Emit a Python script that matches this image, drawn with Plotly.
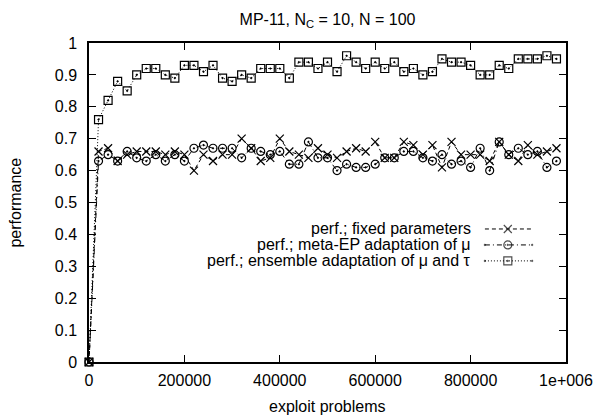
import plotly.graph_objects as go

x_vals = [i * 20000 for i in range(50)]

fixed_params = [0.00, 0.66, 0.67, 0.63, 0.65, 0.66, 0.66, 0.66, 0.65, 0.66,
                0.65, 0.60, 0.65, 0.63, 0.65, 0.65, 0.70, 0.67, 0.63, 0.64,
                0.70, 0.66, 0.65, 0.64, 0.67, 0.65, 0.64, 0.66, 0.67, 0.66,
                0.69, 0.64, 0.64, 0.69, 0.68, 0.65, 0.68, 0.61, 0.69, 0.65,
                0.65, 0.65, 0.63, 0.69, 0.65, 0.63, 0.68, 0.65, 0.66, 0.67]

meta_ep = [0.00, 0.63, 0.65, 0.63, 0.66, 0.64, 0.63, 0.65, 0.63, 0.65,
           0.63, 0.67, 0.68, 0.67, 0.67, 0.67, 0.64, 0.67, 0.66, 0.65,
           0.66, 0.62, 0.62, 0.69, 0.64, 0.64, 0.60, 0.62, 0.61, 0.61,
           0.62, 0.64, 0.64, 0.66, 0.66, 0.64, 0.63, 0.65, 0.62, 0.63,
           0.61, 0.67, 0.60, 0.69, 0.65, 0.67, 0.65, 0.66, 0.61, 0.63]

ensemble = [0.00, 0.76, 0.82, 0.88, 0.85, 0.90, 0.92, 0.92, 0.90, 0.89,
            0.93, 0.93, 0.91, 0.93, 0.89, 0.88, 0.90, 0.89, 0.92, 0.92,
            0.92, 0.89, 0.94, 0.94, 0.92, 0.94, 0.91, 0.96, 0.94, 0.92,
            0.94, 0.92, 0.94, 0.91, 0.92, 0.90, 0.91, 0.95, 0.94, 0.94,
            0.93, 0.90, 0.90, 0.93, 0.92, 0.95, 0.95, 0.95, 0.96, 0.95]

series_names = ["perf.; fixed parameters",
                "perf.; meta-EP adaptation of \u03bc",
                "perf.; ensemble adaptation of \u03bc and \u03c4"]

x_tickvals = [0, 200000, 400000, 600000, 800000, 1000000]
x_ticktext = ["0", "200000", "400000", "600000", "800000", "1e+006"]
y_tickvals = [0, 0.1, 0.2, 0.3, 0.4, 0.5, 0.6, 0.7, 0.8, 0.9, 1.0]
y_ticktext = ["0", "0.1", "0.2", "0.3", "0.4", "0.5", "0.6", "0.7", "0.8", "0.9", "1"]

FONT = "Liberation Sans, Arial, sans-serif"
FS = 16
styles = [
    dict(dash="4px,3px", symbol="x-thin-open", size=8),
    dict(dash="5px,3px,1px,3px", symbol="circle-open-dot", size=8),
    dict(dash="1px,2px", symbol="square-open-dot", size=8),
]
data = [fixed_params, meta_ep, ensemble]

fig = go.Figure()
for ys, st, name in zip(data, styles, series_names):
    fig.add_trace(go.Scatter(
        x=x_vals, y=ys, mode="lines+markers", name=name, showlegend=False,
        line=dict(color="black", width=1, dash=st["dash"]),
        marker=dict(symbol=st["symbol"], size=st["size"], color="black",
                    line=dict(color="black", width=1.2)),
        cliponaxis=False,
    ))

# manual gnuplot-style legend (text left of sample)
leg_y = [0.417, 0.367, 0.317]
for ly, st, name in zip(leg_y, styles, series_names):
    fig.add_trace(go.Scatter(
        x=[0.830, 0.878, 0.929], y=[ly, ly, ly], mode="lines+markers",
        xaxis="x2", yaxis="y2", showlegend=False, hoverinfo="skip",
        line=dict(color="black", width=1, dash=st["dash"]),
        marker=dict(symbol=st["symbol"], size=[0, st["size"], 0], color="black",
                    line=dict(color="black", width=1.2)),
    ))
    fig.add_annotation(x=0.805, y=ly, xref="paper", yref="paper", text=name,
                       showarrow=False, xanchor="right", yanchor="middle",
                       font=dict(family=FONT, size=FS, color="black"))

fig.add_annotation(x=-0.155, y=0.5, xref="paper", yref="paper", text="performance",
                   textangle=-90, showarrow=False, xanchor="center", yanchor="middle",
                   font=dict(family=FONT, size=FS, color="black"))
fig.add_annotation(x=0.5, y=-0.14, xref="paper", yref="paper", text="exploit problems",
                   showarrow=False, xanchor="center", yanchor="middle",
                   font=dict(family=FONT, size=FS, color="black"))

axis_common = dict(showline=True, linecolor="black", linewidth=1.5, mirror="ticks",
                   ticks="inside", ticklen=7, tickcolor="black", tickwidth=1,
                   showgrid=False, zeroline=False, automargin=False,
                   tickfont=dict(family=FONT, size=FS, color="black"))

fig.update_layout(
    width=606, height=417,
    margin=dict(l=89, r=40, t=43, b=55),
    paper_bgcolor="white", plot_bgcolor="white",
    title=dict(text="MP-11, N<sub>C</sub> = 10, N = 100", x=0.5, xref="paper",
               xanchor="center", y=0.954, yanchor="middle",
               font=dict(family=FONT, size=FS, color="black")),
    xaxis=dict(range=[0, 1000000], tickvals=x_tickvals, ticktext=x_ticktext,
               ticklabelstandoff=3, **axis_common),
    yaxis=dict(range=[0, 1], tickvals=y_tickvals, ticktext=y_ticktext,
               ticklabelstandoff=7, **axis_common),
    xaxis2=dict(range=[0, 1], overlaying="x", visible=False),
    yaxis2=dict(range=[0, 1], overlaying="y", visible=False),
    showlegend=False,
)

fig.write_html("out.html")
